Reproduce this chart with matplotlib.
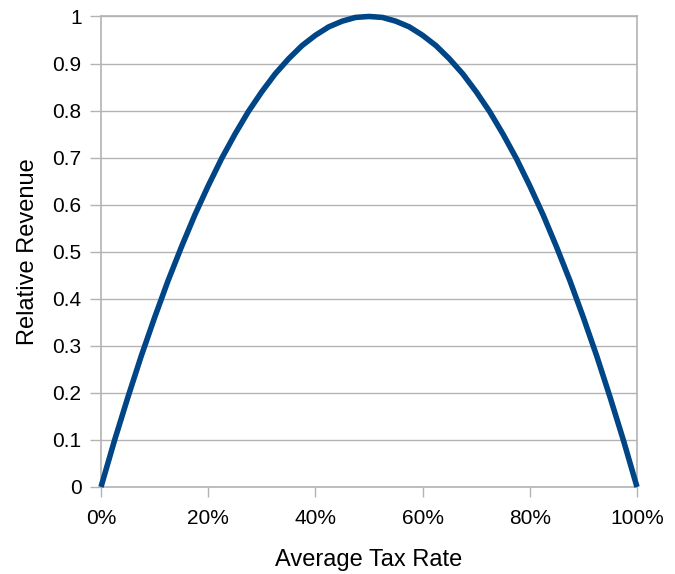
import matplotlib
matplotlib.use('Agg')
import matplotlib.pyplot as plt
from matplotlib.ticker import FuncFormatter

plt.rcParams['font.family'] = ['Liberation Sans', 'DejaVu Sans']

# tax rate (fraction) and relative revenue
tax_rate = [0.000, 0.025, 0.050, 0.075, 0.100, 0.125, 0.150, 0.175, 0.200, 0.225,
            0.250, 0.275, 0.300, 0.325, 0.350, 0.375, 0.400, 0.425, 0.450, 0.475,
            0.500, 0.525, 0.550, 0.575, 0.600, 0.625, 0.650, 0.675, 0.700, 0.725,
            0.750, 0.775, 0.800, 0.825, 0.850, 0.875, 0.900, 0.925, 0.950, 0.975,
            1.000]
revenue = [0.000, 0.098, 0.190, 0.278, 0.360, 0.438, 0.510, 0.578, 0.640, 0.698,
           0.750, 0.798, 0.840, 0.878, 0.910, 0.938, 0.960, 0.978, 0.990, 0.998,
           1.000, 0.998, 0.990, 0.978, 0.960, 0.938, 0.910, 0.878, 0.840, 0.798,
           0.750, 0.698, 0.640, 0.578, 0.510, 0.438, 0.360, 0.278, 0.190, 0.098,
           0.000]
x_ticks = [0, 0.2, 0.4, 0.6, 0.8, 1.0]
y_ticks = [0, 0.1, 0.2, 0.3, 0.4, 0.5, 0.6, 0.7, 0.8, 0.9, 1]

grey = '#b3b3b3'

fig = plt.figure(figsize=(6.75, 5.74), dpi=100)
ax = fig.add_axes([0.1496, 0.1516, 0.7941, 0.8197])

ax.plot(tax_rate, revenue, color='#004586', lw=4, solid_capstyle='butt',
        clip_on=False, zorder=3)

ax.set_xlim(0, 1)
ax.set_ylim(0, 1)
ax.set_xticks(x_ticks)
ax.set_yticks(y_ticks)
ax.xaxis.set_major_formatter(FuncFormatter(lambda v, p: f'{v * 100:.0f}%'))
ax.yaxis.set_major_formatter(FuncFormatter(lambda v, p: f'{v:g}'))
ax.grid(axis='y', color=grey, lw=1)
ax.set_axisbelow(True)

for s in ax.spines.values():
    s.set_color(grey)
    s.set_linewidth(1.2)

ax.tick_params(axis='y', length=8, color=grey, width=1, labelsize=15, pad=6)
ax.tick_params(axis='x', length=7, color=grey, width=1, labelsize=15, pad=9)

ax.set_xlabel('Average Tax Rate', fontsize=17, labelpad=15)
ax.set_ylabel('Relative Revenue', fontsize=17, labelpad=10)

fig.savefig('out.png', dpi=100)
